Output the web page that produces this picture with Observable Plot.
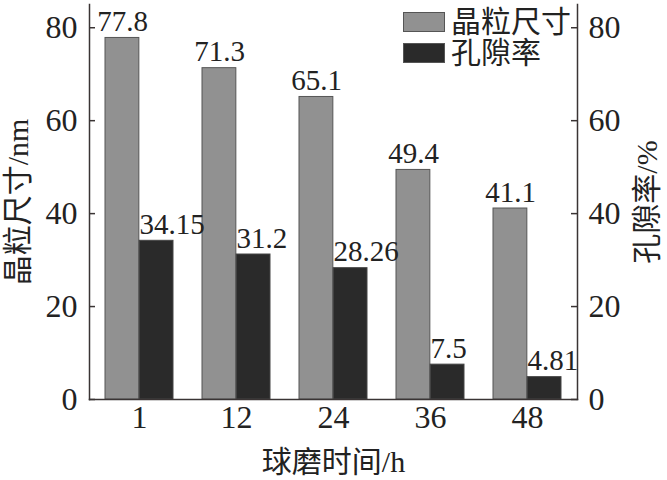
<!DOCTYPE html>
<html>
<head>
<meta charset="utf-8">
<script src="https://cdn.jsdelivr.net/npm/d3@7"></script>
<script src="https://cdn.jsdelivr.net/npm/@observablehq/plot@0.6"></script>
<style>
  html, body { margin: 0; padding: 0; background: white; }
  #wrap { position: relative; width: 667px; height: 480px; font-family: "Liberation Serif", "Noto Sans CJK SC", serif; color: #222; }
  .legend { position: absolute; left: 403px; top: 6px; font-size: 30px; line-height: 31px; }
  .legend .row { display: flex; align-items: center; height: 31px; }
  .legend .sw { width: 42px; height: 20px; box-sizing: border-box; border: 1px solid #555; margin-right: 6px; }
</style>
</head>
<body>
<div id="wrap"></div>
<script>
const times = ["1", "12", "24", "36", "48"];
const grainSize = [77.8, 71.3, 65.1, 49.4, 41.1];
const grainLabels = ["77.8", "71.3", "65.1", "49.4", "41.1"];
const porosity = [34.15, 31.2, 28.26, 7.5, 4.81];
const porosityLabels = ["34.15", "31.2", "28.26", "7.5", "4.81"];
const yTicks = [0, 20, 40, 60, 80];
const seriesNames = ["晶粒尺寸", "孔隙率"];
const seriesColors = ["#919191", "#2a2a2a"];
const xTitle = "球磨时间/h";
const yLeftTitle = "晶粒尺寸/nm";
const yRightTitle = "孔隙率/%";

const grain = times.map((t, i) => ({time: t, value: grainSize[i], label: grainLabels[i]}));
const pores = times.map((t, i) => ({time: t, value: porosity[i], label: porosityLabels[i]}));

const half = 34.16;
const font = "'Liberation Serif', 'Noto Sans CJK SC', serif";

const chart = Plot.plot({
  width: 667,
  height: 480,
  marginLeft: 89,
  marginRight: 90,
  marginTop: 4,
  marginBottom: 81,
  x: {domain: times, paddingInner: 0.3, paddingOuter: 0.15, axis: null},
  y: {domain: [0, 85], axis: null},
  style: {fontFamily: font, fontSize: "30px", color: "#222", background: "white", overflow: "visible"},
  marks: [
    Plot.barY(grain, {x: "time", y: "value", insetRight: half, fill: seriesColors[0], stroke: "#555", strokeWidth: 1}),
    Plot.barY(pores, {x: "time", y: "value", insetLeft: half, fill: seriesColors[1], stroke: "#444", strokeWidth: 1}),
    Plot.frame({anchor: "left", stroke: "#3a3434", strokeWidth: 1.5}),
    Plot.frame({anchor: "right", stroke: "#3a3434", strokeWidth: 1.5}),
    Plot.frame({anchor: "bottom", stroke: "#3a3434", strokeWidth: 1.5}),
    Plot.tickY(yTicks, {y: d => d, insetRight: 482, stroke: "#3a3434", strokeWidth: 1.5}),
    Plot.tickY(yTicks, {y: d => d, insetLeft: 482, stroke: "#3a3434", strokeWidth: 1.5}),
    Plot.axisY({anchor: "left", ticks: yTicks, tickSize: 0, tickPadding: 12, fontSize: 32, label: null}),
    Plot.axisY({anchor: "right", ticks: yTicks, tickSize: 0, tickPadding: 11, fontSize: 32, label: null}),
    Plot.axisX({anchor: "bottom", tickSize: 0, tickPadding: 6, fontSize: 32, label: null}),
    Plot.text(grain, {x: "time", y: "value", text: "label", dx: -17, dy: -7, lineAnchor: "bottom", fontSize: 29, fill: "#222"}),
    Plot.text(pores, {x: "time", y: "value", text: "label", dx: 0, dy: -7, textAnchor: "start", lineAnchor: "bottom", fontSize: 29, fill: "#222"}),
    Plot.text([yLeftTitle], {frameAnchor: "left", text: d => d, rotate: -90, dx: -71, textAnchor: "middle", lineAnchor: "middle", fontSize: 30, fill: "#222"}),
    Plot.text([yRightTitle], {frameAnchor: "right", text: d => d, rotate: -90, dx: 70, textAnchor: "middle", lineAnchor: "middle", fontSize: 30, fill: "#222"}),
    Plot.text([xTitle], {frameAnchor: "bottom", text: d => d, dy: 63, textAnchor: "middle", lineAnchor: "middle", fontSize: 30, fill: "#222"})
  ]
});

const wrap = document.getElementById("wrap");
wrap.appendChild(chart);

const legend = document.createElement("div");
legend.className = "legend";
seriesNames.forEach((name, i) => {
  const row = document.createElement("div");
  row.className = "row";
  const sw = document.createElement("div");
  sw.className = "sw";
  sw.style.background = seriesColors[i];
  const label = document.createElement("span");
  label.textContent = name;
  row.appendChild(sw);
  row.appendChild(label);
  legend.appendChild(row);
});
wrap.appendChild(legend);
</script>
</body>
</html>
